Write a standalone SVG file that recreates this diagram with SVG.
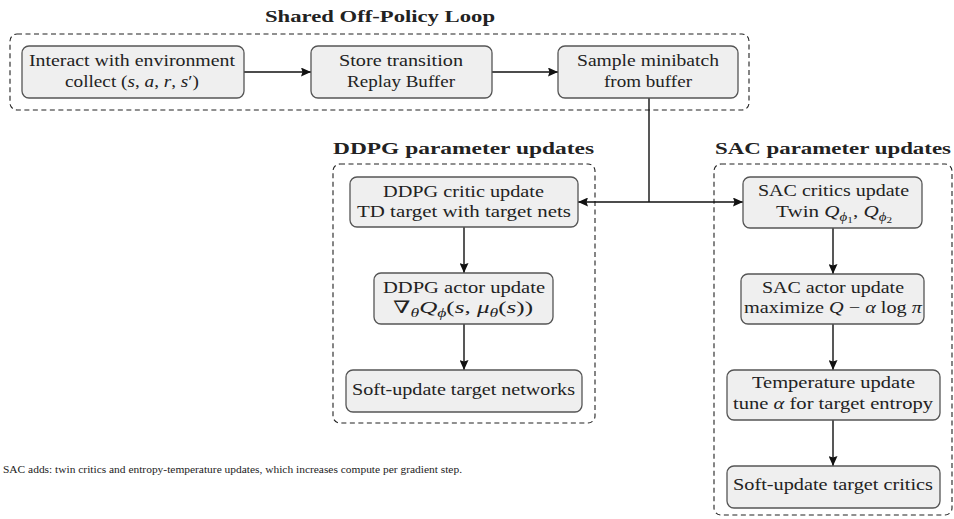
<svg xmlns="http://www.w3.org/2000/svg" width="954" height="519" viewBox="0 0 954 519">
  <style>
    .frame { fill: none; stroke: #222; stroke-width: 1.1; stroke-dasharray: 5 3.5; }
    .node rect { fill: #efefef; stroke: #555; stroke-width: 1.3; }
    .lbl, .ttl, .note { font-family: "Liberation Serif", "DejaVu Serif", serif; fill: #222; }
    .lbl { font-size: 17px; text-anchor: middle; }
    .ttl { font-size: 17px; font-weight: bold; text-anchor: middle; }
    .note { font-size: 10.5px; }
    .m { font-style: italic; }
    .edge { fill: none; stroke: #111; stroke-width: 1.4; }
  </style>
  <defs>
    <marker id="arrow" markerUnits="userSpaceOnUse" markerWidth="11" markerHeight="9" refX="10" refY="4.5" orient="auto">
      <path d="M0,0 L10,4.5 L0,9 L1.5,4.5 Z" fill="#111"/>
    </marker>
  </defs>

  <!-- group frames -->
  <g id="frames">
    <rect class="frame" x="10" y="34" width="739" height="76" rx="7"/>
    <text class="ttl" x="380" y="22" textLength="230" lengthAdjust="spacingAndGlyphs">Shared Off-Policy Loop</text>
    <rect class="frame" x="333" y="164" width="262" height="259" rx="7"/>
    <text class="ttl" x="463.5" y="154" textLength="261" lengthAdjust="spacingAndGlyphs">DDPG parameter updates</text>
    <rect class="frame" x="714" y="164" width="238" height="351" rx="7"/>
    <text class="ttl" x="833" y="154" textLength="236" lengthAdjust="spacingAndGlyphs">SAC parameter updates</text>
  </g>

  <!-- connectors -->
  <g id="connectors">
    <line class="edge" x1="244" y1="72" x2="311" y2="72" marker-end="url(#arrow)"/>
    <line class="edge" x1="492" y1="72" x2="558" y2="72" marker-end="url(#arrow)"/>
    <line class="edge" x1="649" y1="98" x2="649" y2="202"/>
    <line class="edge" x1="649" y1="202" x2="578" y2="202" marker-end="url(#arrow)"/>
    <line class="edge" x1="649" y1="202" x2="743" y2="202" marker-end="url(#arrow)"/>
    <line class="edge" x1="464" y1="227" x2="464" y2="273" marker-end="url(#arrow)"/>
    <line class="edge" x1="464" y1="324" x2="464" y2="370" marker-end="url(#arrow)"/>
    <line class="edge" x1="833" y1="228" x2="833" y2="274" marker-end="url(#arrow)"/>
    <line class="edge" x1="833" y1="324" x2="833" y2="370" marker-end="url(#arrow)"/>
    <line class="edge" x1="833" y1="420" x2="833" y2="466" marker-end="url(#arrow)"/>
  </g>

  <!-- shared loop nodes -->
  <g id="interact" class="node">
    <rect x="22" y="46" width="222" height="52" rx="7"/>
    <text class="lbl" x="132" y="66" textLength="206" lengthAdjust="spacingAndGlyphs">Interact with environment</text>
    <text class="lbl" x="132" y="87" textLength="134" lengthAdjust="spacingAndGlyphs">collect (<tspan class="m">s</tspan>, <tspan class="m">a</tspan>, <tspan class="m">r</tspan>, <tspan class="m">s</tspan>′)</text>
  </g>
  <g id="store" class="node">
    <rect x="311" y="46" width="181" height="52" rx="7"/>
    <text class="lbl" x="401" y="66" textLength="124" lengthAdjust="spacingAndGlyphs">Store transition</text>
    <text class="lbl" x="401" y="87" textLength="108" lengthAdjust="spacingAndGlyphs">Replay Buffer</text>
  </g>
  <g id="sample" class="node">
    <rect x="558" y="46" width="180" height="52" rx="7"/>
    <text class="lbl" x="648" y="66" textLength="142" lengthAdjust="spacingAndGlyphs">Sample minibatch</text>
    <text class="lbl" x="648" y="87" textLength="88" lengthAdjust="spacingAndGlyphs">from buffer</text>
  </g>

  <!-- DDPG nodes -->
  <g id="ddpg-critic" class="node">
    <rect x="350" y="177" width="228" height="50" rx="7"/>
    <text class="lbl" x="463.5" y="197" textLength="161" lengthAdjust="spacingAndGlyphs">DDPG critic update</text>
    <text class="lbl" x="464" y="217" textLength="214" lengthAdjust="spacingAndGlyphs">TD target with target nets</text>
  </g>
  <g id="ddpg-actor" class="node">
    <rect x="374" y="273" width="179" height="51" rx="7"/>
    <text class="lbl" x="464" y="293" textLength="162" lengthAdjust="spacingAndGlyphs">DDPG actor update</text>
    <text class="lbl" x="463" y="313" textLength="140" lengthAdjust="spacingAndGlyphs">∇<tspan font-size="12" class="m" dy="4">θ</tspan><tspan class="m" dy="-4">Q</tspan><tspan font-size="12" class="m" dy="4">ϕ</tspan><tspan dy="-4">(</tspan><tspan class="m">s</tspan>, <tspan class="m">μ</tspan><tspan font-size="12" class="m" dy="4">θ</tspan><tspan dy="-4">(</tspan><tspan class="m">s</tspan>))</text>
  </g>
  <g id="ddpg-soft" class="node">
    <rect x="346" y="370" width="236" height="42" rx="7"/>
    <text class="lbl" x="463.5" y="395" textLength="223" lengthAdjust="spacingAndGlyphs">Soft-update target networks</text>
  </g>

  <!-- SAC nodes -->
  <g id="sac-critics" class="node">
    <rect x="743" y="177" width="179" height="51" rx="7"/>
    <text class="lbl" x="833.5" y="196" textLength="151" lengthAdjust="spacingAndGlyphs">SAC critics update</text>
    <text class="lbl" x="834" y="217" textLength="116" lengthAdjust="spacingAndGlyphs">Twin <tspan class="m">Q</tspan><tspan font-size="12" class="m" dy="4">ϕ</tspan><tspan font-size="9" dy="2">1</tspan><tspan dy="-6">, </tspan><tspan class="m">Q</tspan><tspan font-size="12" class="m" dy="4">ϕ</tspan><tspan font-size="9" dy="2">2</tspan></text>
  </g>
  <g id="sac-actor" class="node">
    <rect x="741" y="274" width="183" height="50" rx="7"/>
    <text class="lbl" x="833" y="293" textLength="142" lengthAdjust="spacingAndGlyphs">SAC actor update</text>
    <text class="lbl" x="833" y="313" textLength="178" lengthAdjust="spacingAndGlyphs">maximize <tspan class="m">Q</tspan> − <tspan class="m">α</tspan> log <tspan class="m">π</tspan></text>
  </g>
  <g id="sac-temperature" class="node">
    <rect x="727" y="370" width="213" height="50" rx="7"/>
    <text class="lbl" x="833.5" y="388" textLength="163" lengthAdjust="spacingAndGlyphs">Temperature update</text>
    <text class="lbl" x="833" y="409" textLength="200" lengthAdjust="spacingAndGlyphs">tune <tspan class="m">α</tspan> for target entropy</text>
  </g>
  <g id="sac-soft" class="node">
    <rect x="727" y="466" width="213" height="42" rx="7"/>
    <text class="lbl" x="833" y="490" textLength="200" lengthAdjust="spacingAndGlyphs">Soft-update target critics</text>
  </g>

  <!-- footnote -->
  <text class="note" x="3" y="473" textLength="459" lengthAdjust="spacingAndGlyphs">SAC adds: twin critics and entropy-temperature updates, which increases compute per gradient step.</text>
</svg>
